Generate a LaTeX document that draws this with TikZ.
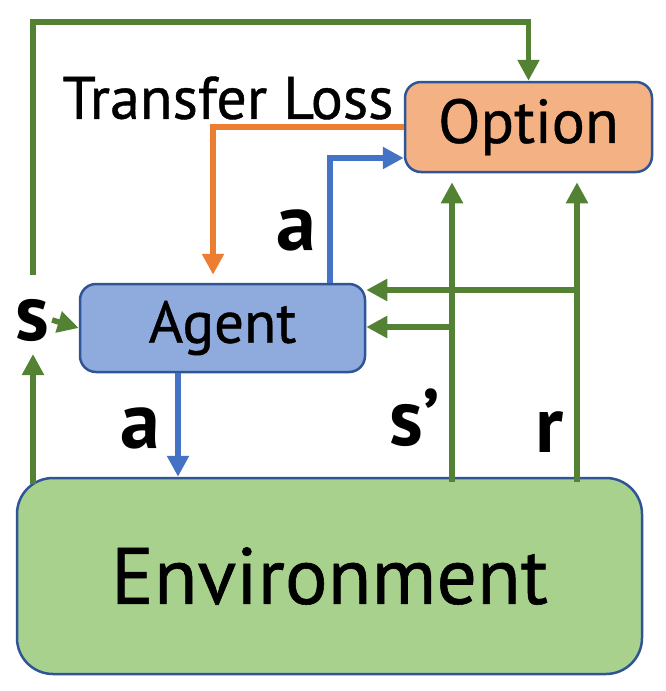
\documentclass[tikz,border=0pt]{standalone}
\usepackage{fontspec}
\setmainfont{PT Sans}
\newfontfamily\medfont{PT Sans}[FakeBold=0.7]
\usetikzlibrary{arrows.meta,positioning}
\definecolor{edgeblue}{HTML}{2F5597}
\definecolor{agentfill}{HTML}{8FAADC}
\definecolor{optionfill}{HTML}{F4B183}
\definecolor{envfill}{HTML}{A9D18E}
\definecolor{flowgreen}{HTML}{548235}
\definecolor{flowblue}{HTML}{4472C4}
\definecolor{floworange}{HTML}{ED7D31}
\begin{document}
\begin{tikzpicture}[x=1pt,y=-1pt,
	box/.style={draw=edgeblue,line width=2.5pt,inner sep=0pt},
	flow/.style={line width=5.5pt,-{Triangle[length=21pt,width=21pt]}},
	lbl/.style={font=\fontsize{80}{80}\selectfont\bfseries,inner sep=0pt}]
	\useasboundingbox (0,0) rectangle (665,691);

	% The three blocks.
	\node[box,fill=envfill,rounded corners=36pt,minimum width=625pt,minimum height=196pt,
		font=\medfont\fontsize{80}{80}\selectfont] (env) at (329.5,576) {Environment};
	\node[box,fill=agentfill,rounded corners=16pt,minimum width=285pt,minimum height=88pt,
		font=\medfont\fontsize{59}{59}\selectfont] (agent) at (222.5,328) {Agent};
	\node[box,fill=optionfill,rounded corners=16pt,minimum width=247pt,minimum height=90pt,
		font=\medfont\fontsize{62}{62}\selectfont] (opt) at (528.5,127) {Option};

	% Labels.
	\node[lbl] (s) at (32,320) {s};
	\node[lbl] (aup) at (296,230) {a};
	\node[lbl] (adown) at (140,428) {a};
	\node[lbl] (sp) at (415,418) {s’};
	\node[lbl] (r) at (550,432) {r};
	\node[font=\medfont\fontsize{60}{60}\selectfont,inner sep=0pt] (loss) at (228,98) {Transfer Loss};

	% Free ends of the connectors.
	\coordinate (stop) at (33,275);
	\coordinate (topleft) at (33,22);
	\coordinate (envleft) at (33,484);
	\coordinate (sbottom) at (33,354);
	\coordinate (spfoot) at (452,482);
	\coordinate (rfoot) at (577,482);
	\coordinate (rjoin) at (577,290);
	\coordinate (spjoin) at (452,327);

	% State s feeds both the option and the agent.
	\draw[flow,flowgreen] (stop) -- (topleft) -| (opt.north);
	\draw[flow,flowgreen] ([xshift=3pt]s.east) -- (agent.west);
	\draw[flow,flowgreen] (envleft) -- (sbottom);

	% Next state and reward go up to the option and back to the agent.
	\draw[flow,flowgreen,shorten >=9pt] (spfoot) -- (opt.south -| spfoot);
	\draw[flow,flowgreen,shorten >=9pt] (rfoot) -- (opt.south -| rfoot);
	\draw[flow,flowgreen] (rjoin) -- (agent.east |- rjoin);
	\draw[flow,flowgreen] (spjoin) -- (agent.east |- spjoin);

	% Transfer loss from the option to the agent.
	\draw[flow,floworange,shorten >=8pt] (opt.west |- 0,127) -| (agent.north -| 213,0);

	% Actions.
	\draw[flow,flowblue] (agent.north -| 330,0) |- (opt.west |- 0,158);
	\draw[flow,flowblue] (agent.south -| 178,0) -- (env.north -| 178,0);
\end{tikzpicture}
\end{document}
